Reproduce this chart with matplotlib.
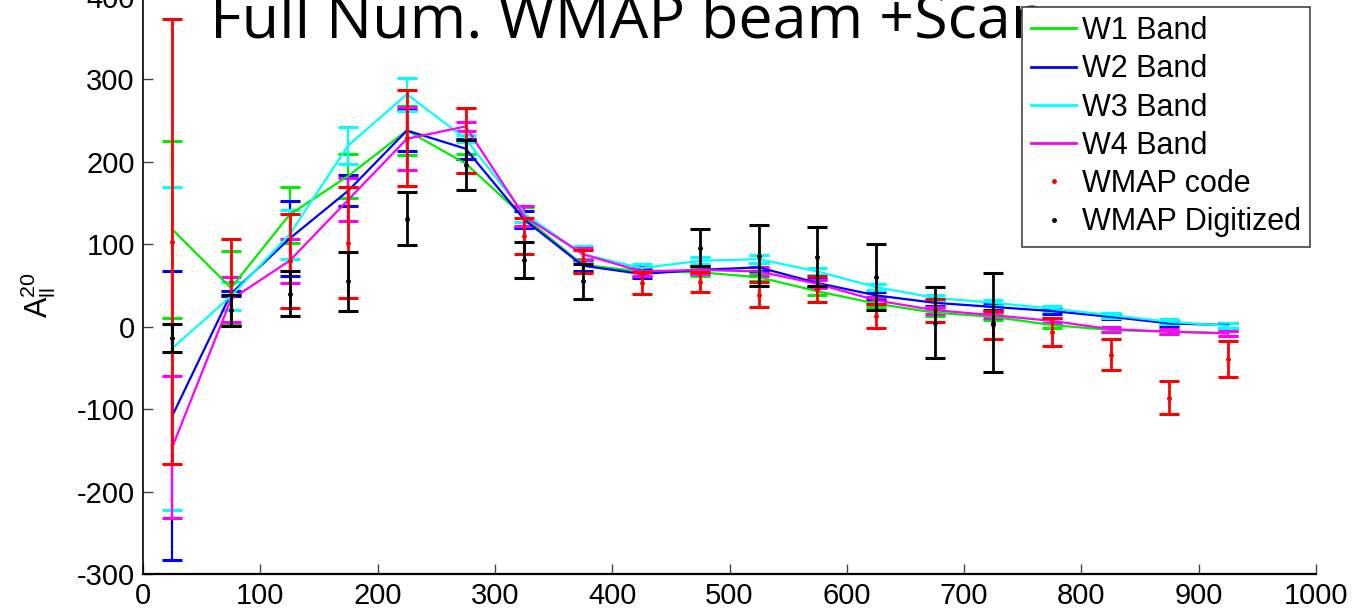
import numpy as np
import matplotlib.pyplot as plt
from matplotlib.lines import Line2D

plt.rcParams["axes.unicode_minus"] = False
plt.rcParams["mathtext.default"] = "regular"

# multipole bins (centres)
ELL = [25, 75, 125, 175, 225, 275, 325, 375, 425, 475,
       525, 575, 625, 675, 725, 775, 825, 875, 925]

W1 = [118, 47, 136, 183, 238, 198, 133, 75, 67, 66, 60, 43, 28, 17, 12, 2, -4, -6, -8]
W1_ERR = [107, 45, 34, 27, 30, 11, 12, 7, 5, 5, 5, 5, 4, 4, 4, 3, 3, 3, 3]

W2 = [-108, 40, 107, 165, 238, 216, 130, 74, 64, 69, 72, 53, 38, 29, 24, 19, 12, 4, 2]
W2_ERR = [175, 3, 45, 19, 25, 12, 10, 7, 5, 5, 5, 5, 4, 4, 4, 3, 3, 3, 3]

W3 = [-26, 37, 112, 220, 282, 228, 137, 88, 71, 80, 82, 67, 48, 35, 29, 22, 14, 6, 1]
W3_ERR = [196, 17, 30, 22, 20, 4, 10, 10, 5, 4, 5, 4, 4, 4, 4, 3, 3, 3, 3]

W4 = [-146, 33, 80, 154, 228, 243, 134, 88, 67, 69, 67, 52, 32, 20, 14, 7, -3, -6, -8]
W4_ERR = [86, 27, 27, 26, 38, 5, 12, 7, 5, 5, 5, 5, 4, 4, 4, 3, 3, 3, 3]

WMAP_CODE = [103, 54, 80, 102, 229, 226, 110, 79, 53, 54, 39, 46, 13, 20, 2, -7, -34, -86, -39]
WMAP_CODE_ERR = [270, 53, 57, 67, 58, 39, 22, 14, 13, 12, 15, 16, 15, 14, 17, 17, 19, 20, 22]

ELL_DIG = [25, 75, 125, 175, 225, 275, 325, 375, 475, 525, 575, 625, 675, 725]
WMAP_DIG = [-14, 20, 40, 55, 131, 196, 81, 55, 96, 86, 85, 60, 5, 5]
WMAP_DIG_ERR = [17, 19, 27, 36, 32, 30, 22, 21, 22, 37, 36, 40, 43, 60]

BANDS = [
    ("W1 Band", W1, W1_ERR, "#00ee00"),
    ("W2 Band", W2, W2_ERR, "#0000ff"),
    ("W3 Band", W3, W3_ERR, "#00ffff"),
    ("W4 Band", W4, W4_ERR, "#ff00ff"),
]

TICK_FONT = ["Liberation Sans Narrow", "Liberation Sans", "DejaVu Sans"]
TEXT_FONT = ["Liberation Sans", "DejaVu Sans"]

W, H = 1353, 612
fig = plt.figure(figsize=(W / 100, H / 100), dpi=100)
ax = fig.add_axes([143 / W, 1 - 574 / H, (1316 - 143) / W, (574 + 3) / H])

CAP = 7.5
for label, vals, errs, color in BANDS:
    ax.errorbar(ELL, vals, yerr=errs, color=color, linewidth=1.6,
                elinewidth=1.6, capsize=CAP, capthick=2.2, zorder=2)

ax.errorbar(ELL, WMAP_CODE, yerr=WMAP_CODE_ERR, fmt=".", color="red",
            markersize=5, elinewidth=2.0, capsize=CAP, capthick=2.2, zorder=3)
ax.errorbar(ELL_DIG, WMAP_DIG, yerr=WMAP_DIG_ERR, fmt=".", color="black",
            markersize=5, elinewidth=2.0, capsize=CAP, capthick=2.2, zorder=4)

ax.set_xlim(0, 1000)
ax.set_ylim(-300, 400)
ax.set_xticks(np.arange(0, 1001, 100))
ax.set_yticks(np.arange(-300, 401, 100))
ax.spines["top"].set_visible(False)
ax.spines["right"].set_visible(False)
ax.spines["left"].set_linewidth(1.2)
ax.spines["bottom"].set_linewidth(1.6)
ax.tick_params(direction="in", length=7, width=1.0, color="#444444", pad=6)
for t in ax.get_xticklabels() + ax.get_yticklabels():
    t.set_family(TICK_FONT)
    t.set_fontsize(21)

fig.text(38 / W, 1 - 295 / H, r"$A_{ll}^{20}$", rotation=90, fontsize=22,
         ha="center", va="center", family=TEXT_FONT)

fig.text(210 / W, 1 - 38 / H, "Full Num. WMAP beam +Scan", fontsize=44,
         family=["Open Sans", "DejaVu Sans"], ha="left", va="baseline")

handles = [Line2D([], [], color=c, linewidth=2) for _, _, _, c in BANDS]
handles += [
    Line2D([], [], color="red", marker=".", markersize=5, linestyle="none"),
    Line2D([], [], color="black", marker=".", markersize=5, linestyle="none"),
]
labels = [b[0] for b in BANDS] + ["WMAP code", "WMAP Digitized"]
leg = fig.legend(handles, labels, loc="upper right",
                 bbox_to_anchor=(1310 / W, 1 - 7 / H), bbox_transform=fig.transFigure,
                 borderaxespad=0, prop={"family": TEXT_FONT, "size": 22},
                 handlelength=1.45, handletextpad=0.2, labelspacing=0.27,
                 borderpad=0.3, fancybox=False, framealpha=1)
leg.get_frame().set_edgecolor("#444444")
leg.get_frame().set_linewidth(1.2)

fig.savefig("out.png", dpi=100)
